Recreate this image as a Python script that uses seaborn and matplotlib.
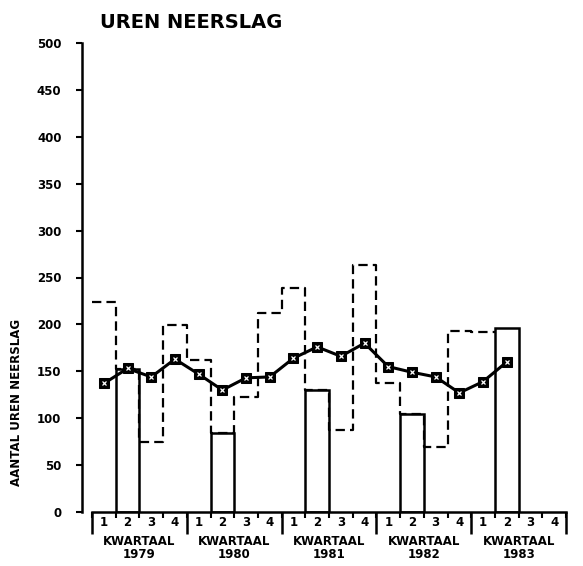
import numpy as np
import pandas as pd
import matplotlib
matplotlib.use("Agg")
import matplotlib.pyplot as plt
import matplotlib.transforms as mtransforms
import seaborn as sns

# data (uren neerslag per kwartaal)
jaren = ["1979", "1980", "1981", "1982", "1983"]
kwartaal_labels = ["1", "2", "3", "4"] * 5

# dashed step: 1979 Q1 .. 1983 Q1
kwartaal_waarden = [224, 152, 75, 199,
                    162, 84, 123, 212,
                    239, 130, 87, 263,
                    138, 104, 69, 193,
                    192]

# solid bars: second quarter of each year
bar_kwartalen = [1, 5, 9, 13, 17]
bar_waarden = [152, 84, 130, 104, 196]

# moving average line with markers: 1979 Q1 .. 1983 Q2
gemiddelde = [137, 153, 144, 163,
              147, 130, 143, 144,
              164, 176, 166, 180,
              155, 149, 144, 127,
              139, 160]

sns.set_style("white")
plt.rcParams["font.family"] = ["DejaVu Sans"]
plt.rcParams["font.weight"] = "bold"
plt.rcParams["text.color"] = "black"
plt.rcParams["axes.labelcolor"] = "black"
plt.rcParams["xtick.color"] = "black"
plt.rcParams["ytick.color"] = "black"
plt.rcParams["axes.edgecolor"] = "black"

fig = plt.figure(figsize=(5.83, 5.66), dpi=100)
ax = fig.add_axes([92 / 583, 1 - 512 / 566, 474 / 583, 469 / 566])

df_bars = pd.DataFrame({"kwartaal": bar_kwartalen, "uren": bar_waarden})
sns.barplot(data=df_bars, x="kwartaal", y="uren", order=list(range(20)),
            width=1.0, fill=False, color="black", linewidth=1.8,
            errorbar=None, ax=ax)

# dashed step line over quarter edges
randen = np.arange(len(kwartaal_waarden) + 1) - 0.5
stap_y = kwartaal_waarden + [kwartaal_waarden[-1]]
ax.plot(randen, stap_y, drawstyle="steps-post", color="black",
        linewidth=1.6, dashes=(4.2, 2.3), zorder=3)

# moving average
x_gem = np.arange(len(gemiddelde))
sns.lineplot(x=x_gem, y=gemiddelde, color="black", linewidth=2.2,
             marker="s", markersize=6.5, markeredgecolor="black",
             markerfacecolor="black", estimator=None, ax=ax, zorder=4)
ax.plot(x_gem, gemiddelde, linestyle="none", marker="x", color="white",
        markersize=3.5, markeredgewidth=0.9, zorder=5)

ax.set_xlim(-0.5, 19.5)
ax.set_ylim(0, 500)
ax.set_xlabel("")
ax.set_ylabel("")

# spines
for s in ["top", "right"]:
    ax.spines[s].set_visible(False)
ax.spines["left"].set_position(("outward", 7))
ax.spines["left"].set_linewidth(1.8)
ax.spines["bottom"].set_linewidth(1.8)

# y ticks
ax.set_yticks(range(0, 501, 50))
ax.tick_params(axis="y", direction="out", length=4, width=1.5, pad=11,
               labelsize=8.5, left=True)
for t in ax.get_yticklabels():
    t.set_fontweight("bold")

# x ticks: quarter numbers at centres, small ticks at quarter edges
ax.set_xticks(range(20))
ax.set_xticklabels(kwartaal_labels, fontsize=8.5, fontweight="bold")
ax.tick_params(axis="x", which="major", length=0, pad=3)
ax.set_xticks(np.arange(-0.5, 20, 1.0), minor=True)
ax.tick_params(axis="x", which="minor", direction="out", length=4,
               width=1.5, bottom=True)

# longer ticks at year boundaries
sec = ax.secondary_xaxis("bottom")
sec.set_xticks(np.arange(-0.5, 20, 4.0))
sec.set_xticklabels([])
sec.tick_params(axis="x", direction="out", length=16, width=1.8)
sec.spines["bottom"].set_visible(False)

# year labels
trans = mtransforms.blended_transform_factory(ax.transData, ax.transAxes)
for i, jaar in enumerate(jaren):
    ax.text(i * 4 + 1.5, -0.077, "KWARTAAL\n" + jaar, transform=trans,
            ha="center", va="center", fontsize=8.5, fontweight="bold",
            linespacing=1.0)

fig.text(100 / 583, 1 - 28 / 566, "UREN NEERSLAG", fontsize=14,
         fontweight="bold", ha="left", va="baseline")
fig.text(17 / 583, 1 - 402 / 566, "AANTAL UREN NEERSLAG", fontsize=8.5,
         fontweight="bold", rotation=90, ha="center", va="center")

fig.savefig("out.png", dpi=100)
